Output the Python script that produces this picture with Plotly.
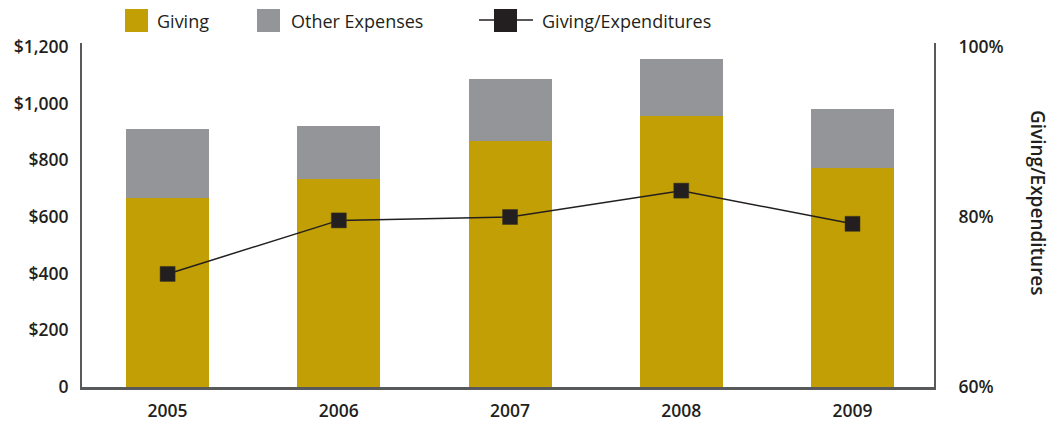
import plotly.graph_objects as go

years = ["2005", "2006", "2007", "2008", "2009"]
giving = [668, 734, 869, 957, 774]
other_expenses = [243, 187, 218, 201, 207]
giving_ratio = [73.3, 79.6, 80.0, 83.1, 79.2]

left_ticks = [0, 200, 400, 600, 800, 1000, 1200]
left_labels = ["0", "$200", "$400", "$600", "$800", "$1,000", "$1,200"]
right_ticks = [60, 80, 100]
right_labels = ["60%", "80%", "100%"]

GOLD = "#C29F05"
GRAY = "#939598"
DARK = "#231F20"
AXIS = "#58595B"

W, H = 1052, 421
L, R, T, B = 82, 118, 43, 34
PW, PH = W - L - R, H - T - B

def px(x):
    return (x - L) / PW

def py(y):
    return (H - B - y) / PH

fig = go.Figure()
fig.add_trace(go.Bar(x=years, y=giving, name="Giving", marker_color=GOLD,
                     marker_line_width=0, width=0.485, showlegend=False))
fig.add_trace(go.Bar(x=years, y=other_expenses, name="Other Expenses", marker_color=GRAY,
                     marker_line_width=0, width=0.485, showlegend=False))
fig.add_trace(go.Scatter(x=years, y=giving_ratio, name="Giving/Expenditures", yaxis="y2",
                         mode="lines+markers",
                         line=dict(color=DARK, width=1.5),
                         marker=dict(symbol="square", size=15, color=DARK,
                                     line=dict(color="#3a3520", width=0.5)),
                         showlegend=False))

tickfont = dict(family="Open Sans", size=17.5, color=DARK, weight=600)

fig.update_layout(
    width=W, height=H,
    margin=dict(l=L, r=R, t=T, b=B, autoexpand=False),
    barmode="stack",
    plot_bgcolor="white", paper_bgcolor="white",
    font=dict(family="Open Sans", color=DARK),
    xaxis=dict(showline=True, linecolor=AXIS, linewidth=2.5, ticks="",
               showgrid=False, tickfont=tickfont, ticklabelstandoff=6,
               range=[-0.5, 4.476], automargin=False),
    yaxis=dict(range=[0, 1214], tickvals=left_ticks, ticktext=left_labels,
               showline=True, linecolor=AXIS, linewidth=2, showgrid=False,
               zeroline=False, ticks="", tickfont=tickfont, ticklabelstandoff=8,
               automargin=False),
    yaxis2=dict(range=[60, 100.47], tickvals=right_ticks, ticktext=right_labels,
                overlaying="y", side="right", showline=True, linecolor=AXIS,
                linewidth=2, showgrid=False, zeroline=False, ticks="",
                tickfont=tickfont, ticklabelstandoff=19, automargin=False),
)

# Legend drawn manually (large square swatches)
shapes = []
annotations = []
legend_font = dict(family="Open Sans", size=18, color=DARK)
for x0, x1, col, label, tx in [(125, 148, GOLD, "Giving", 155),
                               (257, 280, GRAY, "Other Expenses", 289)]:
    shapes.append(dict(type="rect", xref="paper", yref="paper",
                       x0=px(x0), x1=px(x1), y0=py(32), y1=py(9),
                       fillcolor=col, line=dict(width=0)))
    annotations.append(dict(text=label, xref="paper", yref="paper", x=px(tx), y=py(21),
                            xanchor="left", yanchor="middle", showarrow=False,
                            font=legend_font))
shapes.append(dict(type="line", xref="paper", yref="paper",
                   x0=px(479), x1=px(533), y0=py(20), y1=py(20),
                   line=dict(color=DARK, width=1.5)))
shapes.append(dict(type="rect", xref="paper", yref="paper",
                   x0=px(494), x1=px(517), y0=py(32), y1=py(9),
                   fillcolor=DARK, line=dict(width=0)))
annotations.append(dict(text="Giving/Expenditures", xref="paper", yref="paper",
                        x=px(540), y=py(21), xanchor="left", yanchor="middle",
                        showarrow=False, font=legend_font))
annotations.append(dict(text="Giving/Expenditures", xref="paper", yref="paper",
                        x=px(1038), y=py(203), xanchor="center", yanchor="middle",
                        textangle=90, showarrow=False,
                        font=dict(family="Open Sans", size=19, color=DARK, weight=600)))
fig.update_layout(shapes=shapes, annotations=annotations)

fig.write_html("out.html", config={"displayModeBar": False},
               post_script="document.body.style.margin='0px';document.body.style.overflow='hidden';")
